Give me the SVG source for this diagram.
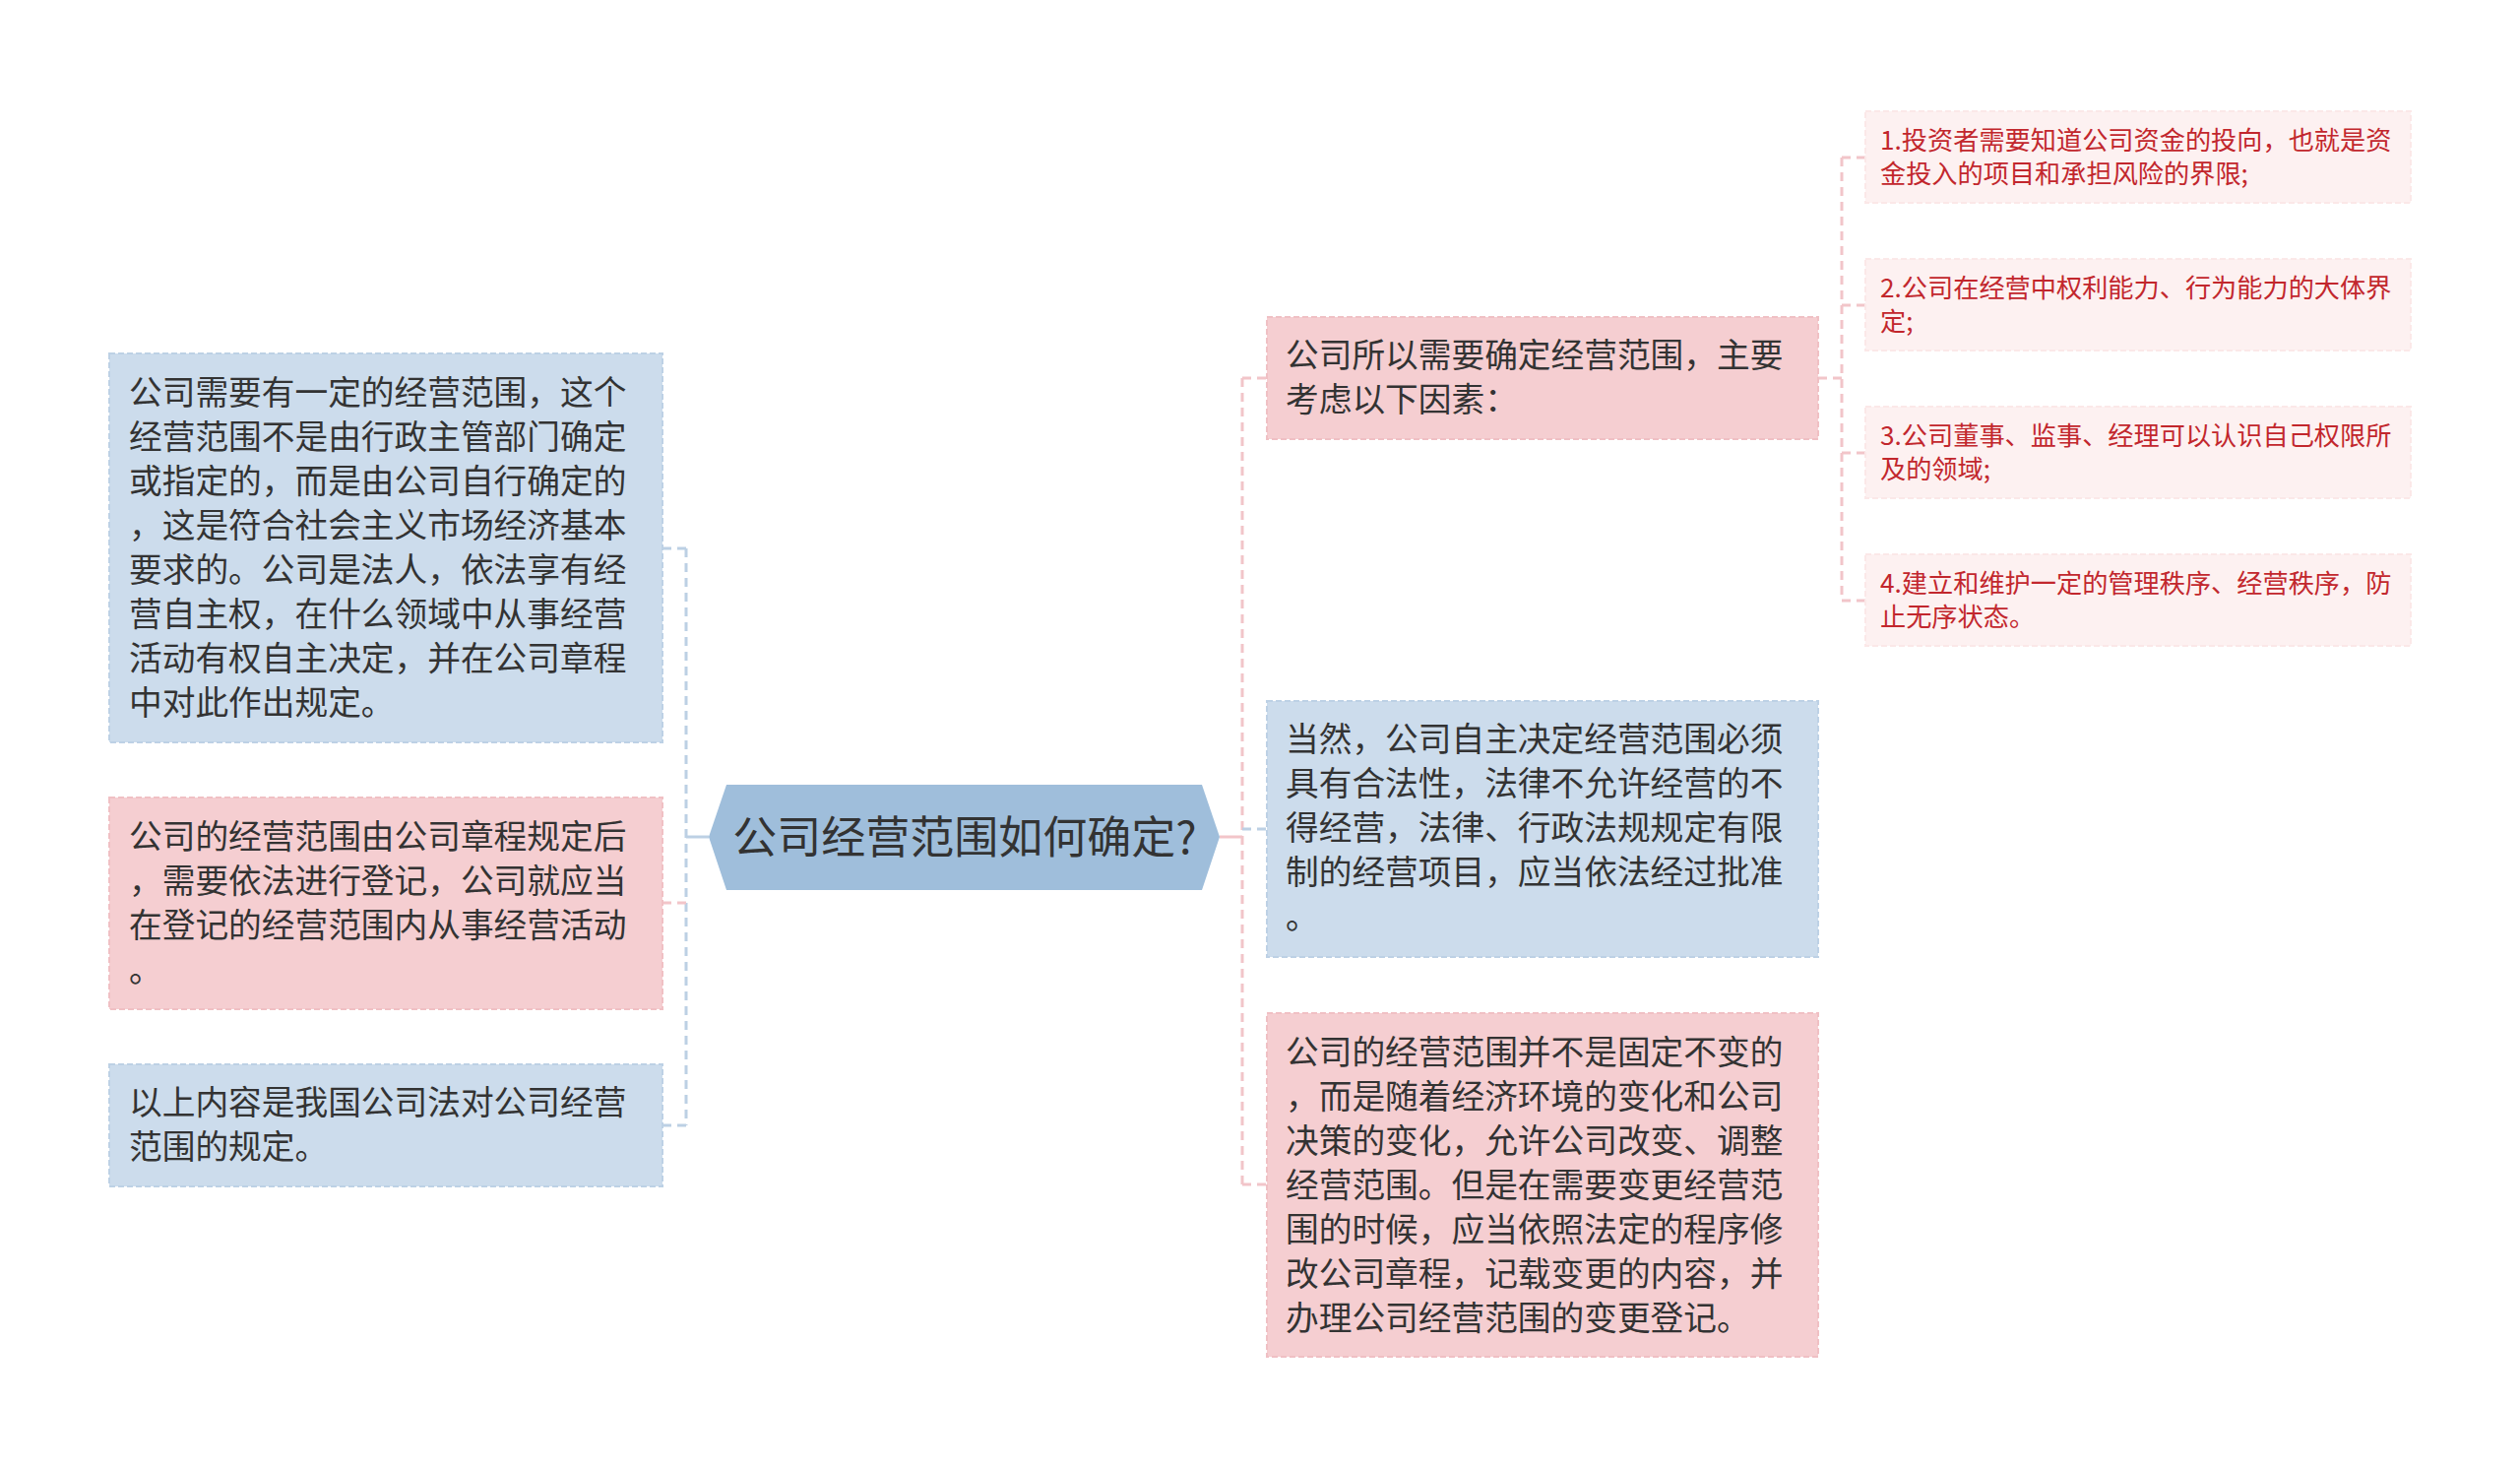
<svg xmlns="http://www.w3.org/2000/svg" width="2560" height="1491" viewBox="0 0 2560 1491">
<defs>
<style>
.bg{fill:#ffffff}
.txt{font-family:"Noto Sans CJK SC","Liberation Sans",sans-serif;font-size:33.7px;fill:#333333}
.leaftxt{font-family:"Noto Sans CJK SC","Liberation Sans",sans-serif;font-size:26.2px;fill:#c2272d}
.ctxt{font-family:"Noto Sans CJK SC","Liberation Sans",sans-serif;font-size:45px;fill:#333333}
.blue{fill:#ccdcec;stroke:#bdd1e5;stroke-width:2;stroke-dasharray:6 3}
.pink{fill:#f5ced1;stroke:#f0c0c4;stroke-width:2;stroke-dasharray:6 3}
.leaf{fill:#fdf1f1;stroke:#fbe8e8;stroke-width:2;stroke-dasharray:6 3}
.center{fill:#9fbedb}
.lb{fill:none;stroke:#bcd0e4;stroke-width:3;stroke-dasharray:9 6}
.lp{fill:none;stroke:#f2c5c9;stroke-width:3;stroke-dasharray:9 6}
.lbs{fill:none;stroke:#bcd0e4;stroke-width:3}
.lps{fill:none;stroke:#f2c5c9;stroke-width:3}
</style>
</defs>
<rect class="bg" x="0" y="0" width="2560" height="1491"/>

<g id="connectors">
  <line class="lbs" x1="720" y1="850" x2="697" y2="850"/>
  <line class="lb" x1="697" y1="557" x2="697" y2="1143"/>
  <line class="lb" x1="697" y1="557" x2="673" y2="557"/>
  <line class="lp" x1="697" y1="917" x2="673" y2="917"/>
  <line class="lb" x1="697" y1="1143" x2="673" y2="1143"/>
  <line class="lps" x1="1239" y1="850" x2="1262" y2="850"/>
  <line class="lp" x1="1262" y1="384" x2="1262" y2="1203"/>
  <line class="lp" x1="1262" y1="384" x2="1287" y2="384"/>
  <line class="lb" x1="1262" y1="842" x2="1287" y2="842"/>
  <line class="lp" x1="1262" y1="1203" x2="1287" y2="1203"/>
  <line class="lp" x1="1847" y1="384" x2="1871" y2="384"/>
  <line class="lp" x1="1871" y1="160" x2="1871" y2="610"/>
  <line class="lp" x1="1871" y1="160" x2="1895" y2="160"/>
  <line class="lp" x1="1871" y1="310" x2="1895" y2="310"/>
  <line class="lp" x1="1871" y1="460" x2="1895" y2="460"/>
  <line class="lp" x1="1871" y1="610" x2="1895" y2="610"/>
</g>

<g id="center">
  <polygon class="center" points="720,850 738,797 1221,797 1239,850 1221,904 738,904"/>
  <text class="ctxt" x="980" y="867" text-anchor="middle">公司经营范围如何确定?</text>
</g>

<g id="left1">
  <rect class="blue" x="111" y="359" width="562" height="395"/>
  <text class="txt">
    <tspan x="131" y="411">公司需要有一定的经营范围，这个</tspan>
    <tspan x="131" y="456">经营范围不是由行政主管部门确定</tspan>
    <tspan x="131" y="501">或指定的，而是由公司自行确定的</tspan>
    <tspan x="131" y="546">，这是符合社会主义市场经济基本</tspan>
    <tspan x="131" y="591">要求的。公司是法人，依法享有经</tspan>
    <tspan x="131" y="636">营自主权，在什么领域中从事经营</tspan>
    <tspan x="131" y="681">活动有权自主决定，并在公司章程</tspan>
    <tspan x="131" y="726">中对此作出规定。</tspan>
  </text>
</g>

<g id="left2">
  <rect class="pink" x="111" y="810" width="562" height="215"/>
  <text class="txt">
    <tspan x="131" y="862">公司的经营范围由公司章程规定后</tspan>
    <tspan x="131" y="907">，需要依法进行登记，公司就应当</tspan>
    <tspan x="131" y="952">在登记的经营范围内从事经营活动</tspan>
    <tspan x="131" y="997">。</tspan>
  </text>
</g>

<g id="left3">
  <rect class="blue" x="111" y="1081" width="562" height="124"/>
  <text class="txt">
    <tspan x="131" y="1132">以上内容是我国公司法对公司经营</tspan>
    <tspan x="131" y="1177">范围的规定。</tspan>
  </text>
</g>

<g id="right1">
  <rect class="pink" x="1287" y="322" width="560" height="124"/>
  <text class="txt">
    <tspan x="1306" y="373">公司所以需要确定经营范围，主要</tspan>
    <tspan x="1306" y="418">考虑以下因素：</tspan>
  </text>
</g>

<g id="right2">
  <rect class="blue" x="1287" y="712" width="560" height="260"/>
  <text class="txt">
    <tspan x="1306" y="763">当然，公司自主决定经营范围必须</tspan>
    <tspan x="1306" y="808">具有合法性，法律不允许经营的不</tspan>
    <tspan x="1306" y="853">得经营，法律、行政法规规定有限</tspan>
    <tspan x="1306" y="898">制的经营项目，应当依法经过批准</tspan>
    <tspan x="1306" y="943">。</tspan>
  </text>
</g>

<g id="right3">
  <rect class="pink" x="1287" y="1029" width="560" height="349"/>
  <text class="txt">
    <tspan x="1306" y="1081">公司的经营范围并不是固定不变的</tspan>
    <tspan x="1306" y="1126">，而是随着经济环境的变化和公司</tspan>
    <tspan x="1306" y="1171">决策的变化，允许公司改变、调整</tspan>
    <tspan x="1306" y="1216">经营范围。但是在需要变更经营范</tspan>
    <tspan x="1306" y="1261">围的时候，应当依照法定的程序修</tspan>
    <tspan x="1306" y="1306">改公司章程，记载变更的内容，并</tspan>
    <tspan x="1306" y="1351">办理公司经营范围的变更登记。</tspan>
  </text>
</g>

<g id="leaf1">
  <rect class="leaf" x="1895" y="113" width="554" height="93"/>
  <text class="leaftxt">
    <tspan x="1910" y="152">1.投资者需要知道公司资金的投向，也就是资</tspan>
    <tspan x="1910" y="186">金投入的项目和承担风险的界限;</tspan>
  </text>
</g>

<g id="leaf2">
  <rect class="leaf" x="1895" y="263" width="554" height="93"/>
  <text class="leaftxt">
    <tspan x="1910" y="302">2.公司在经营中权利能力、行为能力的大体界</tspan>
    <tspan x="1910" y="336">定;</tspan>
  </text>
</g>

<g id="leaf3">
  <rect class="leaf" x="1895" y="413" width="554" height="93"/>
  <text class="leaftxt">
    <tspan x="1910" y="452">3.公司董事、监事、经理可以认识自己权限所</tspan>
    <tspan x="1910" y="486">及的领域;</tspan>
  </text>
</g>

<g id="leaf4">
  <rect class="leaf" x="1895" y="563" width="554" height="93"/>
  <text class="leaftxt">
    <tspan x="1910" y="602">4.建立和维护一定的管理秩序、经营秩序，防</tspan>
    <tspan x="1910" y="636">止无序状态。</tspan>
  </text>
</g>
</svg>
